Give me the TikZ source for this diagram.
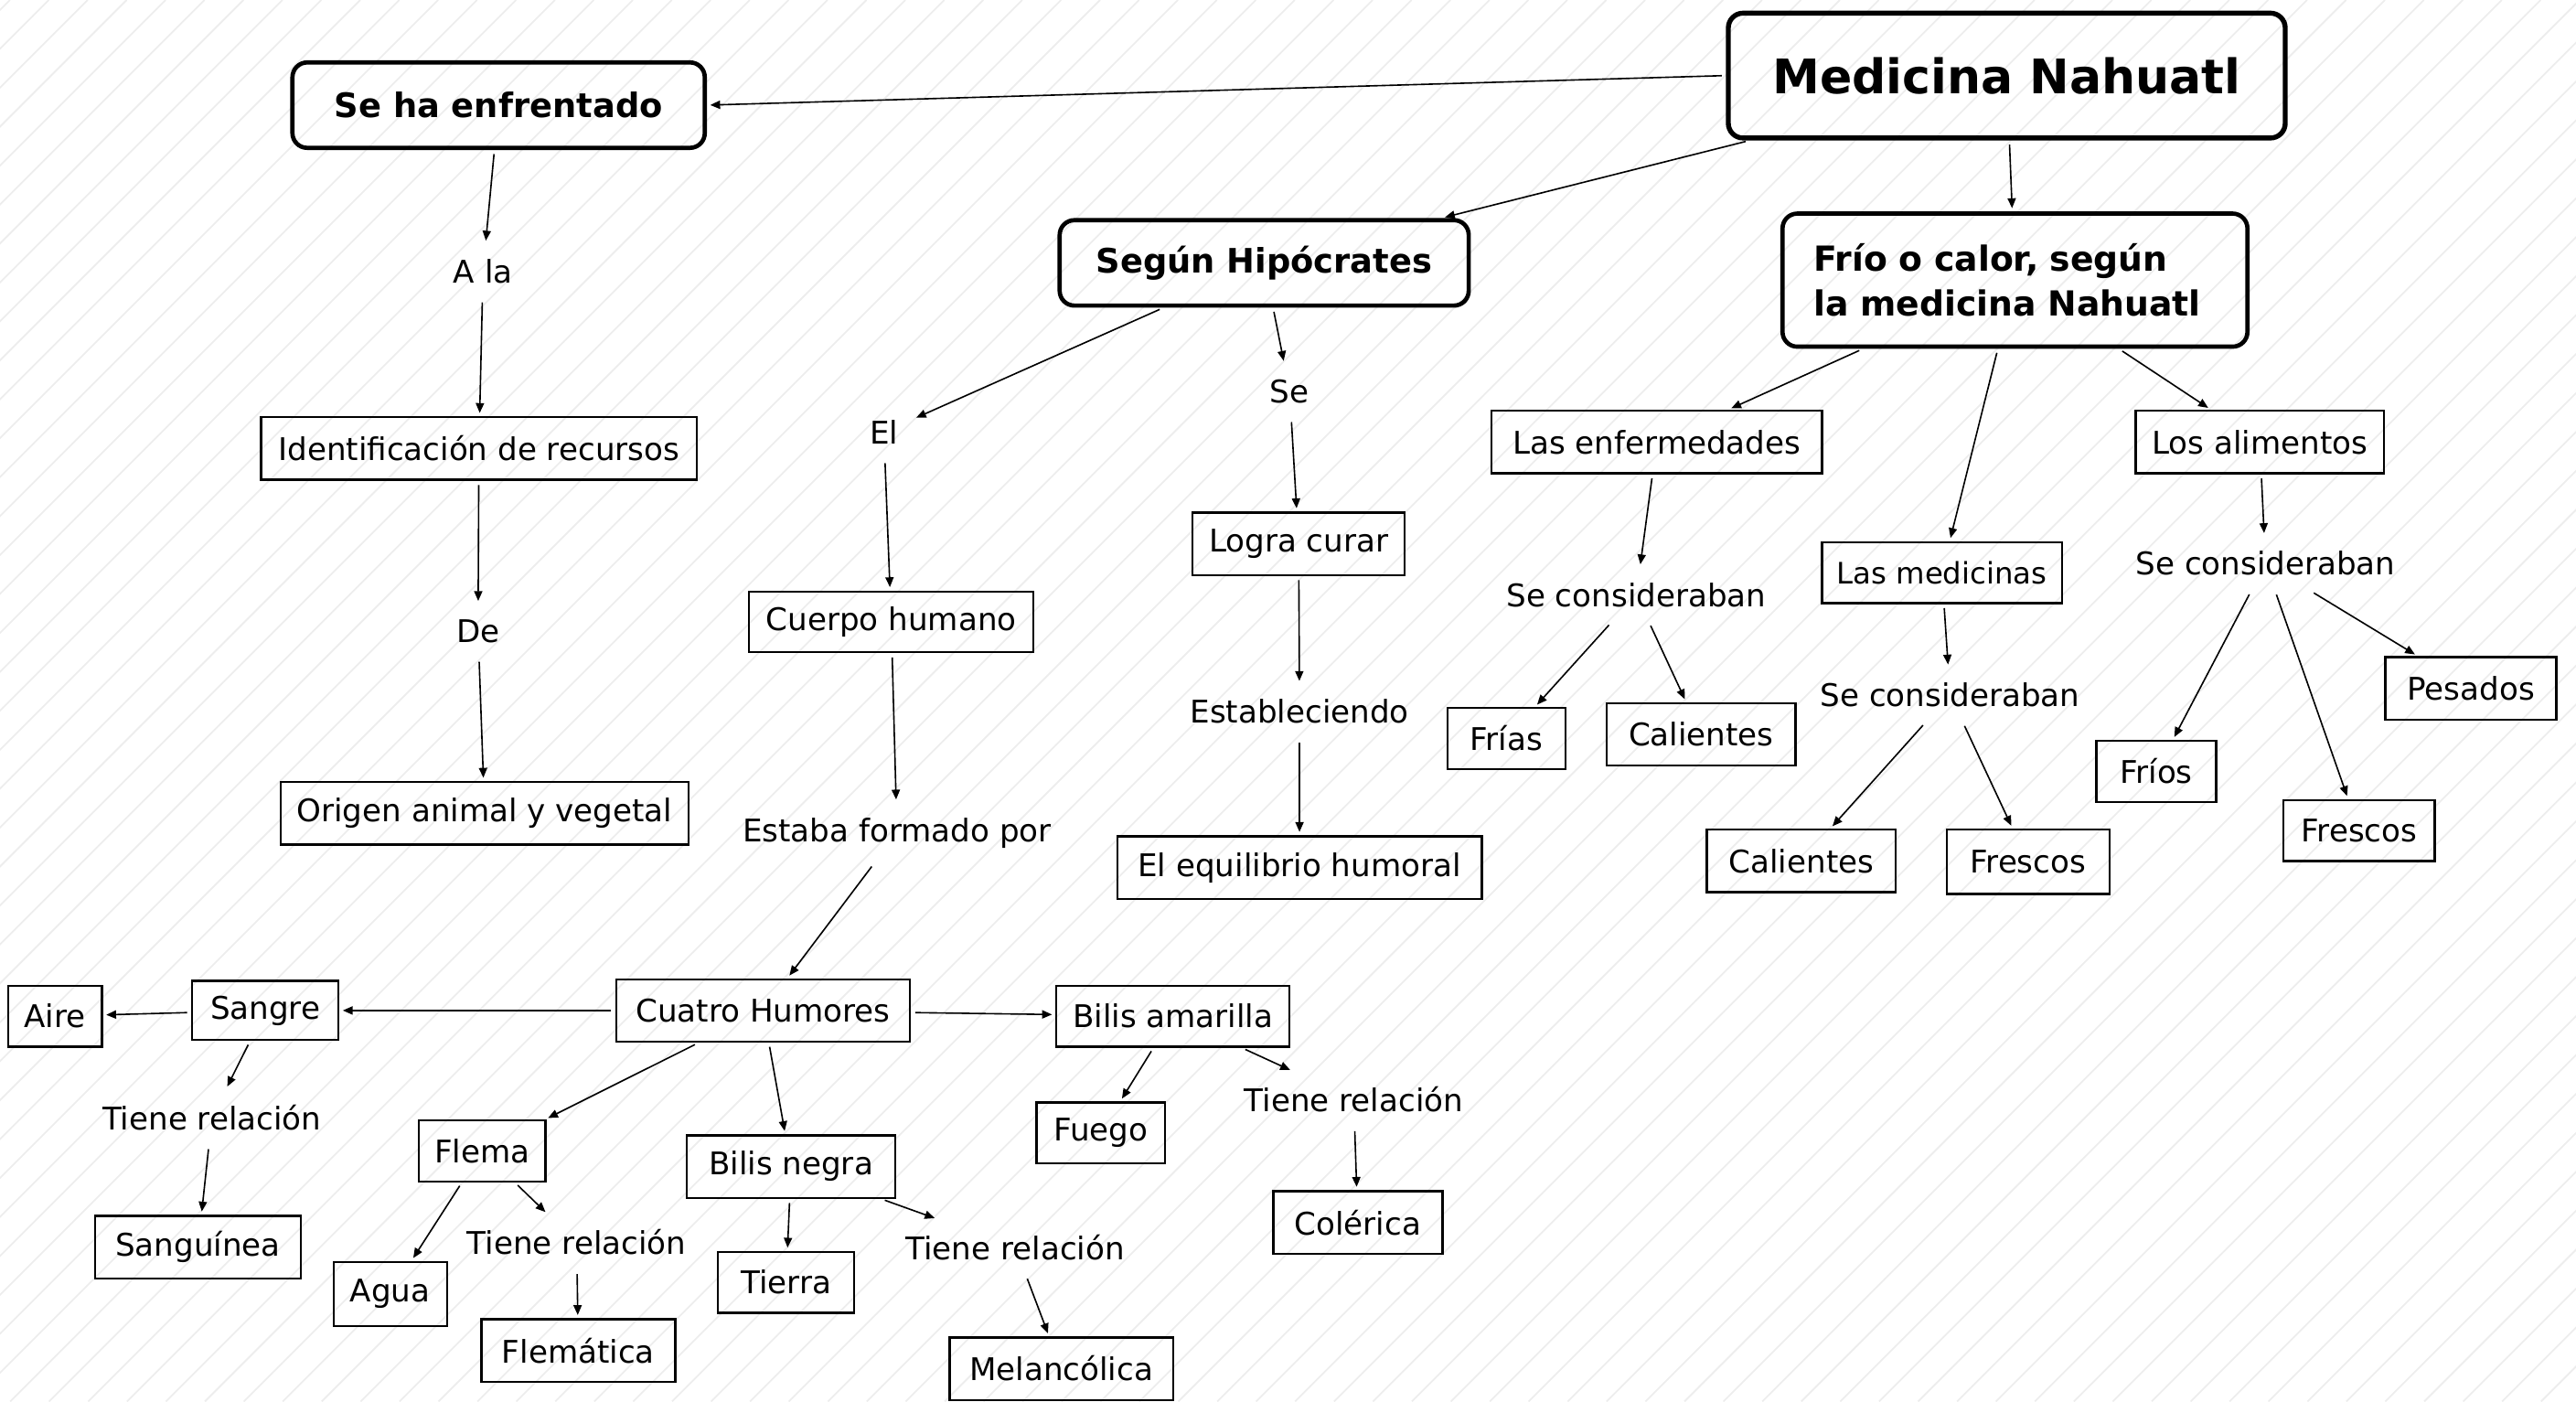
\documentclass[tikz,border=0pt]{standalone}
\usepackage{fontspec}
\setmainfont{DejaVu Sans}
\usetikzlibrary{arrows.meta}
\newcommand\fsz[1]{\fontsize{#1}{#1}\selectfont}
\begin{document}
\begin{tikzpicture}[x=1pt,y=-1pt,
  stripe/.style={gray!14,line width=1pt},
  box/.style={draw,line width=1.3pt,inner sep=0pt,font=\fsz{19}},
  rbox/.style={draw,rounded corners=9pt,line width=2.6pt,inner sep=0pt,font=\bfseries\fsz{20.5}},
  lbl/.style={inner sep=9pt,font=\fsz{19}},
  arr/.style={-{Triangle[length=6pt,width=5pt]},line width=0.9pt,shorten >=2pt,shorten <=2.5pt}]
\useasboundingbox (0,0) rectangle (1568,853);
\begin{scope}
\clip (0,0) rectangle (1568,853);
\foreach \i in {0,...,105}{
  \draw[stripe] ({6+23.7*\i-853},853) -- ({6+23.7*\i},0);
}
\end{scope}
% main rounded boxes
\node[rbox,line width=3pt,minimum width=339pt,minimum height=76pt,font=\bfseries\fsz{29}] (med) at (1221.5,46) {Medicina Nahuatl};
\node[rbox,minimum width=251pt,minimum height=52pt] (seha) at (303.5,64) {Se ha enfrentado};
\node[rbox,minimum width=249pt,minimum height=52pt] (segun) at (769.5,160) {Según Hipócrates};
\node[rbox,minimum width=283pt,minimum height=81pt,text width=245pt,align=left,font=\bfseries\fontsize{21}{27}\selectfont] (frio) at (1226.5,170.5) {Frío o calor, según\\la medicina Nahuatl};
% left branch
\node[lbl] (ala) at (294,165) {A la};
\node[box,minimum width=265pt,minimum height=38pt] (ident) at (291.5,273) {Identificación de recursos};
\node[lbl] (de) at (291,384) {De};
\node[box,minimum width=248pt,minimum height=38pt] (origen) at (295,495) {Origen animal y vegetal};
% Hipocrates branch
\node[lbl] (el) at (538,263) {El};
\node[lbl] (se) at (785,238) {Se};
\node[box,minimum width=173pt,minimum height=37pt] (cuerpo) at (542.5,378.5) {Cuerpo humano};
\node[box,minimum width=129pt,minimum height=38pt] (logra) at (790.5,331) {Logra curar};
\node[lbl] (estab) at (791,433) {Estableciendo};
\node[box,minimum width=222pt,minimum height=38pt] (equil) at (791,528) {El equilibrio humoral};
\node[lbl] (estaba) at (546,507) {Estaba formado por};
\node[box,minimum width=179pt,minimum height=38pt] (cuatro) at (464.5,615) {Cuatro Humores};
\node[box,minimum width=89pt,minimum height=36pt] (sangre) at (161.5,615) {Sangre};
\node[box,minimum width=57pt,minimum height=37pt] (aire) at (33.5,618.5) {Aire};
\node[lbl] (tr1) at (129,680) {Tiene relación};
\node[box,minimum width=125pt,minimum height=38pt] (sanguinea) at (120.5,759) {Sanguínea};
\node[box,minimum width=77pt,minimum height=37pt] (flema) at (293.5,700.5) {Flema};
\node[box,minimum width=69pt,minimum height=39pt] (agua) at (237.5,787.5) {Agua};
\node[lbl] (tr2) at (351,756) {Tiene relación};
\node[box,minimum width=118pt,minimum height=38pt] (flematica) at (352,822) {Flemática};
\node[box,minimum width=127pt,minimum height=38pt] (bneg) at (481.5,710) {Bilis negra};
\node[box,minimum width=83pt,minimum height=37pt] (tierra) at (478.5,780.5) {Tierra};
\node[lbl] (tr3) at (618,759) {Tiene relación};
\node[box,minimum width=136pt,minimum height=38pt] (melanc) at (646,833) {Melancólica};
\node[box,minimum width=142pt,minimum height=37pt] (bam) at (714,618.5) {Bilis amarilla};
\node[box,minimum width=78pt,minimum height=37pt] (fuego) at (670,689.5) {Fuego};
\node[lbl] (tr4) at (824,669) {Tiene relación};
\node[box,minimum width=103pt,minimum height=38pt] (colerica) at (826.5,744) {Colérica};
% Frio o calor branch
\node[box,minimum width=201pt,minimum height=38pt] (enf) at (1008.5,269) {Las enfermedades};
\node[box,minimum width=151pt,minimum height=38pt] (alim) at (1375.5,269) {Los alimentos};
\node[box,minimum width=146pt,minimum height=37pt,font=\fsz{18}] (medic) at (1182,348.5) {Las medicinas};
\node[lbl] (sc1) at (996,362) {Se consideraban};
\node[lbl] (sc2) at (1187,423) {Se consideraban};
\node[lbl] (sc3) at (1379,343) {Se consideraban};
\node[box,minimum width=72pt,minimum height=37pt] (frias) at (917,449.5) {Frías};
\node[box,minimum width=115pt,minimum height=38pt] (cal1) at (1035.5,447) {Calientes};
\node[box,minimum width=115pt,minimum height=38pt] (cal2) at (1096.5,524) {Calientes};
\node[box,minimum width=99pt,minimum height=39pt] (fres1) at (1234.5,524.5) {Frescos};
\node[box,minimum width=73pt,minimum height=37pt] (frios) at (1312.5,469.5) {Fríos};
\node[box,minimum width=92pt,minimum height=37pt] (fres2) at (1436,505.5) {Frescos};
\node[box,minimum width=104pt,minimum height=38pt] (pesados) at (1504,419) {Pesados};
% connectors
\draw[arr] (med.west) -- (seha.east);
\draw[arr] (med) -- (segun);
\draw[arr] (med) -- (frio);
\draw[arr] (seha) -- (ala);
\draw[arr] (ala) -- (ident);
\draw[arr] (ident) -- (de);
\draw[arr] (de) -- (origen);
\draw[arr] (segun) -- (el);
\draw[arr] (segun) -- (se);
\draw[arr] (el) -- (cuerpo);
\draw[arr] (se) -- (logra);
\draw[arr] (cuerpo) -- (estaba);
\draw[arr] (logra) -- (estab);
\draw[arr] (estab) -- (equil);
\draw[arr] (estaba) -- (cuatro);
\draw[arr] (cuatro) -- (sangre);
\draw[arr] (sangre) -- (aire);
\draw[arr] (cuatro) -- (bam);
\draw[arr] (cuatro) -- (flema);
\draw[arr] (cuatro) -- (bneg);
\draw[arr] (sangre) -- (tr1);
\draw[arr] (tr1) -- (sanguinea);
\draw[arr] (flema) -- (agua);
\draw[arr] (flema) -- (tr2);
\draw[arr] (tr2) -- (flematica);
\draw[arr] (bneg) -- (tierra);
\draw[arr] (bneg) -- (tr3);
\draw[arr] (tr3) -- (melanc);
\draw[arr] (bam) -- (fuego);
\draw[arr] (bam) -- (tr4);
\draw[arr] (tr4) -- (colerica);
\draw[arr] (frio) -- (enf);
\draw[arr] (frio) -- (medic);
\draw[arr] (frio) -- (alim);
\draw[arr] (enf) -- (sc1);
\draw[arr] (sc1) -- (frias);
\draw[arr] (sc1) -- (cal1);
\draw[arr] (medic) -- (sc2);
\draw[arr] (sc2) -- (cal2);
\draw[arr] (sc2) -- (fres1);
\draw[arr] (alim) -- (sc3);
\draw[arr] (sc3) -- (frios);
\draw[arr] (sc3) -- (fres2);
\draw[arr] (sc3) -- (pesados);
\end{tikzpicture}
\end{document}
